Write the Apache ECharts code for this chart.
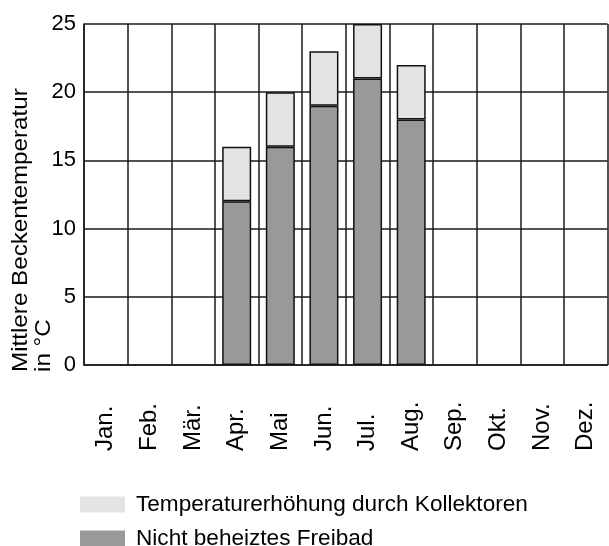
<!DOCTYPE html>
<html>
<head>
<meta charset="utf-8">
<script src="https://cdn.jsdelivr.net/npm/echarts@6/dist/echarts.min.js"></script>
<style>
  html, body { margin: 0; padding: 0; background: #fff; }
  #chart { width: 609px; height: 546px; }
</style>
</head>
<body>
<div id="chart"></div>
<script>
// Monthly mean pool temperature (°C)
const months = ['Jan.', 'Feb.', 'Mär.', 'Apr.', 'Mai', 'Jun.', 'Jul.', 'Aug.', 'Sep.', 'Okt.', 'Nov.', 'Dez.'];
const unheatedPool = [null, null, null, 12, 16, 19, 21, 18, null, null, null, null];
const collectorGain = [null, null, null, 4, 4, 4, 4, 4, null, null, null, null];
const yTicks = { min: 0, max: 25, interval: 5 };

const nameGain = 'Temperaturerhöhung durch Kollektoren';
const nameBase = 'Nicht beheiztes Freibad';
const font = '"Liberation Sans", Arial, sans-serif';
const lineColor = '#1a1a1a';

// one legend per row so the entries stack vertically at the page foot
function legendRow(name, top) {
  return {
    orient: 'horizontal',
    left: 80,
    top: top,
    padding: 0,
    itemWidth: 45,
    itemHeight: 16,
    icon: 'rect',
    data: [name],
    itemStyle: { borderWidth: 0 },
    textStyle: { fontFamily: font, fontSize: 22.6, color: '#000', padding: [0, 0, 0, 6] }
  };
}

const chart = echarts.init(document.getElementById('chart'), null, { renderer: 'canvas' });
chart.setOption({
  animation: false,
  backgroundColor: '#fff',
  grid: { left: 84, top: 24, right: 1.5, bottom: 181, containLabel: false },
  legend: [legendRow(nameGain, 493), legendRow(nameBase, 527)],
  xAxis: {
    type: 'category',
    data: months,
    boundaryGap: true,
    axisLine: { show: true, lineStyle: { color: lineColor, width: 1.5 } },
    axisTick: { show: false },
    splitLine: { show: true, lineStyle: { color: lineColor, width: 1.5 } },
    axisLabel: {
      rotate: 90,
      align: 'left',
      verticalAlign: 'middle',
      margin: 86,
      interval: 0,
      padding: [6, 0, 0, 0],
      fontFamily: font,
      fontSize: 24,
      color: '#000'
    }
  },
  yAxis: {
    type: 'value',
    min: yTicks.min,
    max: yTicks.max,
    interval: yTicks.interval,
    axisLine: { show: true, lineStyle: { color: lineColor, width: 1.5 } },
    axisTick: { show: false },
    splitLine: { show: true, lineStyle: { color: lineColor, width: 1.5 } },
    axisLabel: { margin: 8, padding: [5, 0, 0, 0], fontFamily: font, fontSize: 22, color: '#000' }
  },
  graphic: [
    {
      type: 'text',
      x: 21, y: 372, rotation: Math.PI / 2, scaleX: 1.1,
      style: { text: 'Mittlere Beckentemperatur', font: '22px ' + font, fill: '#000', textAlign: 'left', textVerticalAlign: 'middle' }
    },
    {
      type: 'text',
      x: 44, y: 372, rotation: Math.PI / 2, scaleX: 1.1,
      style: { text: 'in °C', font: '22px ' + font, fill: '#000', textAlign: 'left', textVerticalAlign: 'middle' }
    }
  ],
  series: [
    {
      name: nameBase,
      type: 'bar',
      stack: 'temp',
      data: unheatedPool,
      barWidth: 29,
      itemStyle: { color: '#999999', borderColor: '#111', borderWidth: 1.5 }
    },
    {
      name: nameGain,
      type: 'bar',
      stack: 'temp',
      data: collectorGain,
      barWidth: 29,
      itemStyle: { color: '#e3e3e3', borderColor: '#111', borderWidth: 1.5 }
    }
  ]
});
</script>
</body>
</html>
